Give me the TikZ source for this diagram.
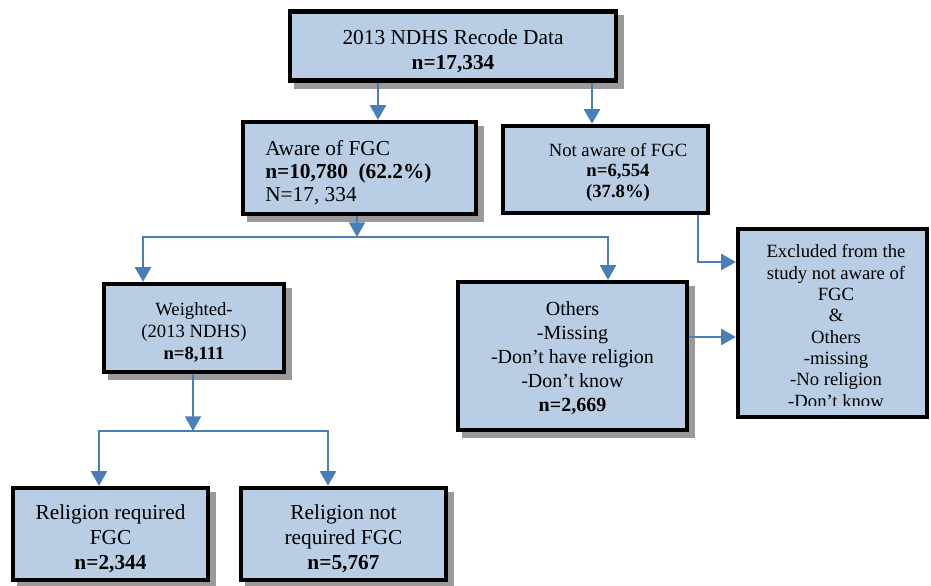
\documentclass[tikz,border=0pt]{standalone}
\usepackage{fontspec}
\setmainfont{Liberation Serif}
\usepackage{tikz}
\usetikzlibrary{arrows.meta}

\definecolor{boxfill}{HTML}{B9CDE5}
\definecolor{arrowblue}{HTML}{4A7EBB}
\definecolor{shadowgray}{HTML}{9A9A9A}

\tikzset{
  flowbox/.style={draw=black, line width=3.2pt, fill=boxfill, inner sep=0pt},
  boxtext/.style={inner sep=0pt, align=center},
  shadowed/.style={preaction={draw=shadowgray, fill=shadowgray, transform canvas={shift={(4.5pt,-4.5pt)}}}},
  arrowline/.style={draw=arrowblue, line width=1.5pt, >={Triangle[width=12pt,length=11pt]}}
}

\begin{document}
\begin{tikzpicture}[x=0.75pt, y=-0.75pt]
          \clip (0,0) rectangle (931,585);

          \node[flowbox, shadowed, minimum width=244.5pt, minimum height=51.75pt] (recode) at (453,46) {}; % top box
          \node[boxtext, font=\fontsize{16}{18.75}\selectfont] (recodetext) at (453,51) {2013 NDHS Recode Data\\\textbf{n=17,334}};

          \node[flowbox, shadowed, minimum width=174.75pt, minimum height=69pt] (aware) at (359.5,168) {}; % aware
          \node[boxtext, anchor=west, align=left, font=\fontsize{16}{17.25}\selectfont] (awaretext) at (265,173) {Aware of FGC\\\textbf{n=10,780\ \ (62.2\%)}\\N=17, 334};

          \node[flowbox, minimum width=153.75pt, minimum height=65.25pt] (notaware) at (605.5,169.5) {}; % not aware
          \node[boxtext, font=\fontsize{14}{15.4}\selectfont] (notawaretext) at (618,172) {Not aware of FGC\\\textbf{n=6,554}\\\textbf{(37.8\%)}};

          \node[flowbox, minimum width=141.75pt, minimum height=141pt] (excl) at (832.5,323) {}; % excluded
          \begin{scope}
            \clip (740,231) rectangle (925,405);
            \node[boxtext, font=\fontsize{14}{16}\selectfont] (excltext) at (836,326) {Excluded from the\\study not aware of\\FGC\\\&\\Others\\-missing\\-No religion\\-Don’t know};
          \end{scope}

          \node[flowbox, shadowed, minimum width=135pt, minimum height=66pt] (weighted) at (194,328) {}; % weighted
          \node[boxtext, font=\fontsize{14}{16.5}\selectfont] (weightedtext) at (194,332) {Weighted-\\(2013 NDHS)\\\textbf{n=8,111}};

          \node[flowbox, shadowed, minimum width=171.75pt, minimum height=111pt] (others) at (572.5,356) {}; % others
          \node[boxtext, font=\fontsize{15}{18}\selectfont] (otherstext) at (572.5,358) {Others\\-Missing\\-Don’t have religion\\-Don’t know\\\textbf{n=2,669}};

          \node[flowbox, shadowed, minimum width=146.25pt, minimum height=69pt] (relreq) at (110.5,534) {}; % required
          \node[boxtext, font=\fontsize{16}{18.75}\selectfont] (relreqtext) at (110.5,539) {Religion required\\FGC\\\textbf{n=2,344}};

          \node[flowbox, shadowed, minimum width=153.75pt, minimum height=69pt] (relnot) at (343.5,534) {}; % not required
          \node[boxtext, font=\fontsize{16}{18.75}\selectfont] (relnottext) at (343.5,539) {Religion not\\required FGC\\\textbf{n=5,767}};

          \coordinate (split1) at (357,237);
          \coordinate (split2) at (193,431);

          \draw[arrowline, ->] (recode.south -| 378,0) -- (aware.north -| 378,0);
          \draw[arrowline, ->] (recode.south -| 592,0) -- (notaware.north -| 592,0);

          \draw[arrowline, ->] (aware.south -| split1) -- (split1);
          \draw[arrowline, <->] (weighted.north -| 143,0) |- (split1) -| (others.north -| 608,0);

          \draw[arrowline, ->] (weighted.south -| split2) -- (split2);
          \draw[arrowline, <->] (relreq.north -| 99,0) |- (split2) -| (relnot.north -| 328,0);

          \draw[arrowline, ->] (notaware.south -| 698,0) |- (excl.west |- 0,262);
          \draw[arrowline, ->] (others.east |- 0,337) -- (excl.west |- 0,337);
\end{tikzpicture}
\end{document}
